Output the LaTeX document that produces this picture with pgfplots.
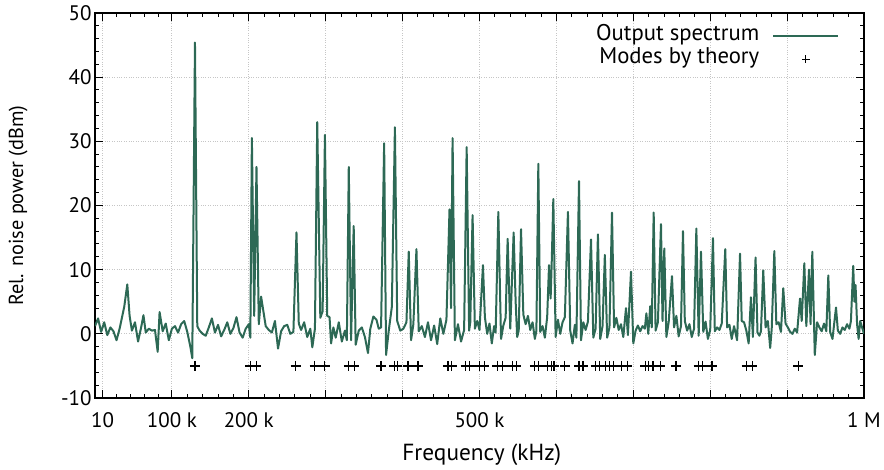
\documentclass[border=0pt]{standalone}
\usepackage{fontspec}
\setmainfont{PT Sans}
\usepackage{pgfplots}
\pgfplotsset{compat=1.18}
\definecolor{specgreen}{RGB}{45,105,85}
\newcommand\fs{\fontsize{21}{25}\selectfont}
\newcommand\fl{\fontsize{22.7}{26}\selectfont}
\pgfplotsset{
  linelegend/.style={legend image code/.code={\draw[##1] (0pt,0pt) -- (65pt,0pt);}},
  marklegend/.style={legend image code/.code={\draw[##1,mark size=4pt] plot coordinates {(32.5pt,0pt)};}},
}
\begin{document}
\begin{tikzpicture}
\begin{axis}[
  scale only axis, width=769pt, height=385pt,
  xmin=0, xmax=1000, ymin=-10, ymax=50,
  xtick={10,100,200,300,400,500,600,700,800,900,1000},
  xticklabels={10,100 k,200 k,,,500 k,,,,,1 M},
  minor xtick={28,46,64,82,120,140,...,980},
  ytick={-10,0,10,20,30,40,50},
  yticklabels={-10,0,10,20,30,40,50},
  minor y tick num=4,
  tick align=inside, tick pos=both,
  major tick length=8pt, minor tick length=4pt,
  every tick/.style={black, line width=1pt},
  axis line style={line width=1.3pt},
  grid=major, major grid style={dotted, gray!45, line width=0.8pt},
  tick label style={font=\fs},
  xticklabel style={yshift=-11pt},
  xlabel={Frequency (kHz)},
  ylabel={Rel. noise power (dBm)},
  xlabel style={font=\fontsize{23.3}{26}\selectfont, at={(axis description cs:0.503,-0.148)}, anchor=center},
  ylabel style={font=\fontsize{20.3}{24}\selectfont, at={(axis description cs:-0.100,0.5)}, anchor=center},
  legend plot pos=right,
  legend cell align=right,
  legend style={at={(axis description cs:0.972,0.975)}, anchor=north east,
    draw=none, fill=none, font=\fl, column sep=11pt,
    nodes={inner sep=2pt, text height=14pt, text depth=5pt}},
]
\addplot[specgreen, line width=2pt, line join=round, linelegend]
coordinates {
(0,1.2) (4,2.4) (8,0.3) (12,1.8) (16,-0.2) (20,1.0) (24,0.4) (28,-1.0) (32,0.8) (35,2.5)
(38,4.2) (42,7.7) (45,2.8) (48,0.5) (52,1.8) (56,-1.2) (60,1.0) (63,2.9) (66,0.2) (70,0.8)
(74,0.5) (78,0.6) (81.5,-2.8) (84,3.4) (88,0.4) (92,1.6) (96,-1.0) (100,0.8) (104,1.2) (108,0.2)
(112,1.5) (116,2.0) (120,0.3) (124,-2.0) (126.5,-3.8) (130,45.4) (133,1.2) (136,0.5) (140,0.0) (144,-0.3)
(148,1.0) (152,2.4) (156,0.2) (160,1.4) (164,-0.4) (168,0.6) (172,1.8) (176,0.0) (180,0.9) (184,2.6)
(188,0.2) (192,-0.6) (196,0.8) (200,1.5) (202,-0.6) (204,30.5) (207,2.8) (210,26.0) (213,1.5) (216,5.8)
(219,3.5) (222,1.2) (226,0.6) (230,0.2) (234,2.0) (238,-2.3) (242,0.4) (246,1.2) (250,1.4) (254,0.0)
(258,0.3) (262,15.8) (265,1.6) (268,0.6) (272,1.8) (276,-0.5) (280,0.8) (282.6,-2.1) (286,0.8) (289,33.0)
(293,2.5) (296,3.5) (299,31.0) (302,2.8) (305,2.6) (307,-1.5) (310,1.0) (313,-0.6) (317,1.8) (321,-1.2)
(325,0.5) (327.5,-1.0) (330,26.0) (333,-1.0) (336.4,16.8) (339,-1.7) (343,0.5) (347,1.0) (351,-0.5) (355,-3.0)
(358,0.8) (362,2.7) (366,2.2) (369,0.8) (372,1.0) (376,29.7) (378.5,-3.3) (382,0.5) (386,4.2) (390,32.2)
(393,2.0) (397,0.5) (401,0.8) (405,1.8) (408,12.8) (411,-1.0) (414,1.5) (418,13.2) (421,0.4) (425,1.2)
(429,-0.5) (433,1.8) (437,-1.0) (441,1.3) (445,-1.6) (449,2.4) (453,0.0) (457,2.2) (461,19.4) (463,4.0)
(465,30.5) (468,-1.0) (472,1.5) (476,-1.2) (480,0.6) (483.3,29.1) (486.5,0.5) (488,1.8) (491,18.5) (494,0.8)
(497,2.0) (500,0.6) (504.5,10.7) (507,2.6) (510,0.0) (513,1.6) (516,-1.5) (519,1.2) (521,0.2) (524.5,19.0)
(528,-0.8) (531,1.3) (534,2.5) (536.6,14.8) (540,0.8) (544.4,15.8) (547,5.0) (549,-0.5) (551,0.5) (554,16.3)
(557,3.0) (560,1.5) (563,2.8) (566,0.6) (569,1.8) (572,-0.8) (574,0.5) (576.5,26.5) (579,0.3) (582,1.2)
(585,-0.6) (588,2.6) (590.4,10.7) (592.5,5.5) (594,11.5) (596,21.0) (599,-0.5) (602,2.2) (605,0.0) (608,1.8)
(611,2.6) (615,19.0) (618,0.5) (621,-1.5) (624,1.4) (626,-0.6) (629.4,23.8) (632,-1.0) (635,1.8) (638,0.6)
(641,1.9) (645,14.7) (648,-0.6) (651,0.8) (654,15.5) (657,-0.8) (660,1.2) (663,12.3) (666,-0.6) (669,1.0)
(672.3,18.9) (675,1.0) (678,2.5) (681,0.6) (684,1.5) (687,-0.5) (690.5,4.0) (693,-0.2) (697,9.7) (700,-1.5)
(703,0.5) (706,1.3) (709,0.4) (712,1.2) (715,0.8) (717,3.2) (719.5,0.0) (722,4.3) (724,1.0) (726.5,18.9)
(729,0.5) (732,1.8) (736,17.1) (738,2.0) (740.3,13.3) (743,-0.5) (746,1.8) (750.3,9.0) (753,1.0) (756,2.8)
(759,-0.4) (762,1.2) (764.6,16.0) (767,2.0) (770,0.5) (773,1.5) (776,-0.5) (779,0.8) (782,16.4) (785,-0.3)
(788,12.8) (791,0.3) (794,1.9) (797,-0.8) (800,0.6) (803.6,14.9) (806,0.4) (809,1.0) (812,0.6) (815,1.6)
(819.6,13.2) (822,1.0) (825,1.4) (828,-0.8) (831,1.2) (835,-1.0) (838.8,12.5) (841,2.0) (844,1.8) (847,0.5)
(850,-1.5) (853,5.7) (855.5,-0.5) (859,11.9) (861.5,0.2) (864,-0.3) (866,0.4) (869,9.9) (872,1.0) (875,2.0)
(878,-2.2) (880,0.8) (883.4,12.9) (886,1.5) (889,1.8) (892,0.3) (895,7.1) (898,1.6) (901,1.0) (904,0.3)
(907,0.0) (910,0.8) (913,0.2) (916.8,5.5) (919,2.0) (922.4,11.0) (925,1.2) (928.5,10.0) (930.5,1.5) (932.8,12.8)
(936,-3.3) (939,1.8) (942,1.0) (945,0.4) (948,1.6) (951,0.4) (953.6,9.1) (956,0.3) (959,-0.8) (963.6,4.1)
(966,0.5) (969,0.0) (972,1.0) (975,0.6) (978,1.5) (981,0.8) (983,2.0) (986,10.6) (987.5,5.0) (989,7.6)
(991,1.5) (993,-0.8) (995,2.0) (997,1.2) (1000,0.0)
};
\addlegendentry{Output spectrum}
\addplot[only marks, mark=+, mark size=5pt, black, line width=1.2pt, marklegend]
coordinates {
(130,-5) (202,-5) (210,-5) (261,-5) (285.7,-5) (298.7,-5) (330,-5) (337,-5) (372,-5) (389,-5)
(393,-5) (407,-5) (420,-5) (459,-5) (464,-5) (482,-5) (487,-5) (500,-5) (506,-5) (523,-5)
(530,-5) (543,-5) (548,-5) (572,-5) (576.5,-5) (588,-5) (594,-5) (597,-5) (611,-5) (629.4,-5)
(634.6,-5) (651,-5) (656,-5) (664,-5) (669,-5) (674.5,-5) (685,-5) (692,-5) (715.6,-5) (720,-5)
(725.6,-5) (735,-5) (755.5,-5) (785,-5) (789.6,-5) (802.3,-5) (847.4,-5) (854.8,-5) (914.6,-5)
};
\addlegendentry{Modes by theory}
\end{axis}
\pgfresetboundingbox
\path[use as bounding box] (current axis.south west) ++(-95pt,-72pt) rectangle ++(884pt,470pt);
\end{tikzpicture}
\end{document}
